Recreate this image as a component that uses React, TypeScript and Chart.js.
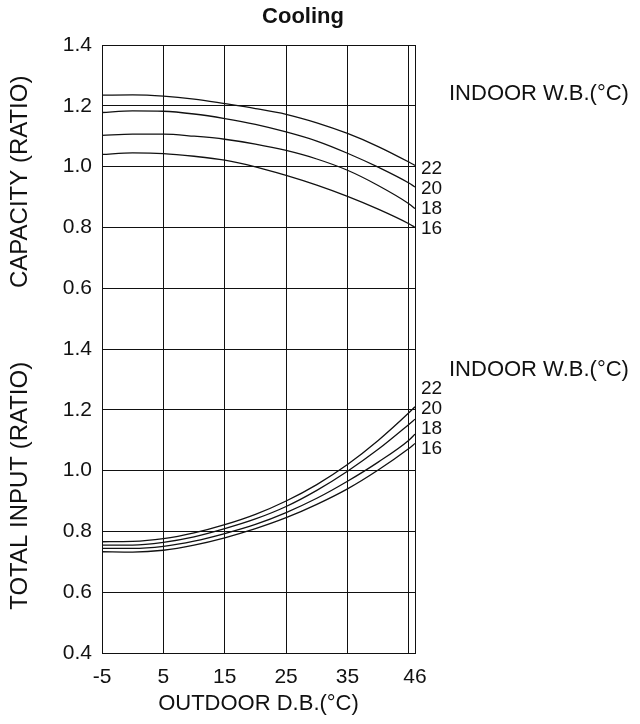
import React, { useEffect, useRef } from 'react';
import { Chart, registerables } from 'chart.js';

Chart.register(...registerables);

// ---- data ----
const outdoorDB = [-5, 0, 5, 10, 15, 20, 25, 30, 35, 40, 45, 46];
const indoorWB = ['22', '20', '18', '16'];

const capacity22 = [1.235, 1.236, 1.232, 1.222, 1.207, 1.191, 1.172, 1.144, 1.109, 1.066, 1.015, 1.004];
const capacity20 = [1.178, 1.183, 1.182, 1.173, 1.158, 1.139, 1.114, 1.084, 1.044, 0.998, 0.946, 0.933];
const capacity18 = [1.103, 1.107, 1.107, 1.100, 1.090, 1.074, 1.053, 1.025, 0.988, 0.938, 0.878, 0.862];
const capacity16 = [1.040, 1.045, 1.043, 1.034, 1.021, 0.999, 0.971, 0.939, 0.902, 0.860, 0.812, 0.800];

const input22 = [0.766, 0.767, 0.776, 0.795, 0.822, 0.856, 0.900, 0.954, 1.020, 1.099, 1.190, 1.210];
const input20 = [0.755, 0.755, 0.764, 0.782, 0.809, 0.841, 0.882, 0.935, 0.998, 1.070, 1.152, 1.169];
const input18 = [0.744, 0.744, 0.751, 0.768, 0.793, 0.823, 0.862, 0.909, 0.965, 1.028, 1.100, 1.120];
const input16 = [0.733, 0.732, 0.738, 0.755, 0.779, 0.809, 0.845, 0.889, 0.940, 1.002, 1.073, 1.089];

const xTicks = [-5, 5, 15, 25, 35, 45, 46];
const xTickLabels = ['-5', '5', '15', '25', '35', '', '46'];
const capacityTicks = [0.6, 0.8, 1.0, 1.2, 1.4];
const inputTicks = [0.4, 0.6, 0.8, 1.0, 1.2, 1.4];

const FONT = "'Liberation Sans', Arial, Helvetica, sans-serif";
const INK = '#111';

const capacitySeries = [capacity22, capacity20, capacity18, capacity16];
const inputSeries = [input22, input20, input18, input16];

function toPoints(values: number[]) {
  return values.map((y, i) => ({ x: outdoorDB[i], y }));
}

const labelsPlugin = {
  id: 'wbLabels',
  afterDraw(chart: any) {
    const { ctx, chartArea } = chart;
    ctx.save();
    ctx.fillStyle = INK;
    ctx.textBaseline = 'middle';
    ctx.font = `bold 22px ${FONT}`;
    ctx.textAlign = 'center';
    ctx.fillText('Cooling', chartArea.left + 201, 17);

    ctx.font = `22px ${FONT}`;
    ctx.textAlign = 'left';
    ctx.fillText('INDOOR W.B.(°C)', chartArea.right + 34, chart.scales.yCap.getPixelForValue(1.24));
    ctx.fillText('INDOOR W.B.(°C)', chartArea.right + 34, chart.scales.yIn.getPixelForValue(1.33));

    ctx.font = `19px ${FONT}`;
    const panels = [
      { first: 0, offset: 1 },
      { first: 4, offset: 5 },
    ];
    panels.forEach(({ first, offset }) => {
      const meta = chart.getDatasetMeta(first + 3);
      const last = meta.data[meta.data.length - 1];
      const base = last.y + offset;
      indoorWB.forEach((lab, k) => {
        ctx.fillText(lab, chartArea.right + 6, base - (3 - k) * 20);
      });
    });
    ctx.restore();
  },
};

export default function App() {
  const canvasRef = useRef<HTMLCanvasElement | null>(null);

  useEffect(() => {
    if (!canvasRef.current) return;
    const lineStyle = {
      borderColor: INK,
      borderWidth: 1.3,
      pointRadius: 0,
      fill: false,
      cubicInterpolationMode: 'monotone' as const,
    };
    const datasets: any[] = [];
    capacitySeries.forEach((s, i) =>
      datasets.push({ ...lineStyle, label: `Capacity ${indoorWB[i]}`, data: toPoints(s), yAxisID: 'yCap' })
    );
    inputSeries.forEach((s, i) =>
      datasets.push({ ...lineStyle, label: `Input ${indoorWB[i]}`, data: toPoints(s), yAxisID: 'yIn' })
    );

    const gridOpts = { color: INK, lineWidth: 1, drawTicks: false };
    const borderOpts = { color: INK, width: 1 };
    const tickFont = { family: FONT, size: 21 };
    const xTitleFont = { family: FONT, size: 22 };
    const yTitleFont = { family: FONT, size: 24 };

    const chart = new Chart(canvasRef.current, {
      type: 'line',
      data: { datasets },
      plugins: [labelsPlugin],
      options: {
        animation: false,
        responsive: false,
        devicePixelRatio: 1,
        layout: { padding: { top: 45, right: 225, left: 0, bottom: 0 } },
        plugins: {
          legend: { display: false },
          title: { display: false },
          tooltip: { enabled: false },
        },
        scales: {
          x: {
            type: 'linear',
            min: -5,
            max: 46,
            afterBuildTicks: (s: any) => {
              s.ticks = xTicks.map((v) => ({ value: v }));
            },
            afterFit: (s: any) => {
              s.height = 71;
            },
            grid: gridOpts,
            border: borderOpts,
            ticks: {
              color: INK,
              font: tickFont,
              padding: 12,
              autoSkip: false,
              maxRotation: 0,
              callback: (_v: any, i: number) => xTickLabels[i] ?? '',
            },
            title: {
              display: true,
              text: 'OUTDOOR D.B.(°C)',
              color: INK,
              font: xTitleFont,
              padding: { top: 0, bottom: 7 },
            },
          },
          yIn: {
            type: 'linear',
            position: 'left',
            stack: 'panels',
            stackWeight: 5.5,
            min: 0.4,
            max: 1.5,
            afterBuildTicks: (s: any) => {
              s.ticks = inputTicks.map((v) => ({ value: v }));
            },
            afterFit: (s: any) => {
              s.width = 102;
            },
            grid: gridOpts,
            border: borderOpts,
            ticks: {
              color: INK,
              font: tickFont,
              padding: 10,
              callback: (v: any) => Number(v).toFixed(1),
            },
            title: {
              display: true,
              text: 'TOTAL INPUT (RATIO)',
              color: INK,
              font: yTitleFont,
              padding: { top: 6, bottom: 0 },
            },
          },
          yCap: {
            type: 'linear',
            position: 'left',
            stack: 'panels',
            stackWeight: 4.5,
            min: 0.5,
            max: 1.4,
            afterBuildTicks: (s: any) => {
              s.ticks = capacityTicks.map((v) => ({ value: v }));
            },
            afterFit: (s: any) => {
              s.width = 102;
            },
            grid: gridOpts,
            border: borderOpts,
            ticks: {
              color: INK,
              font: tickFont,
              padding: 10,
              callback: (v: any) => Number(v).toFixed(1),
            },
            title: {
              display: true,
              text: 'CAPACITY (RATIO)',
              color: INK,
              font: yTitleFont,
              padding: { top: 6, bottom: 0 },
            },
          },
        },
      } as any,
    });
    return () => chart.destroy();
  }, []);

  return (
    <div style={{ position: 'absolute', left: 0, top: 0, width: 640, height: 724, background: '#fff' }}>
      <canvas ref={canvasRef} width={640} height={724} />
    </div>
  );
}
